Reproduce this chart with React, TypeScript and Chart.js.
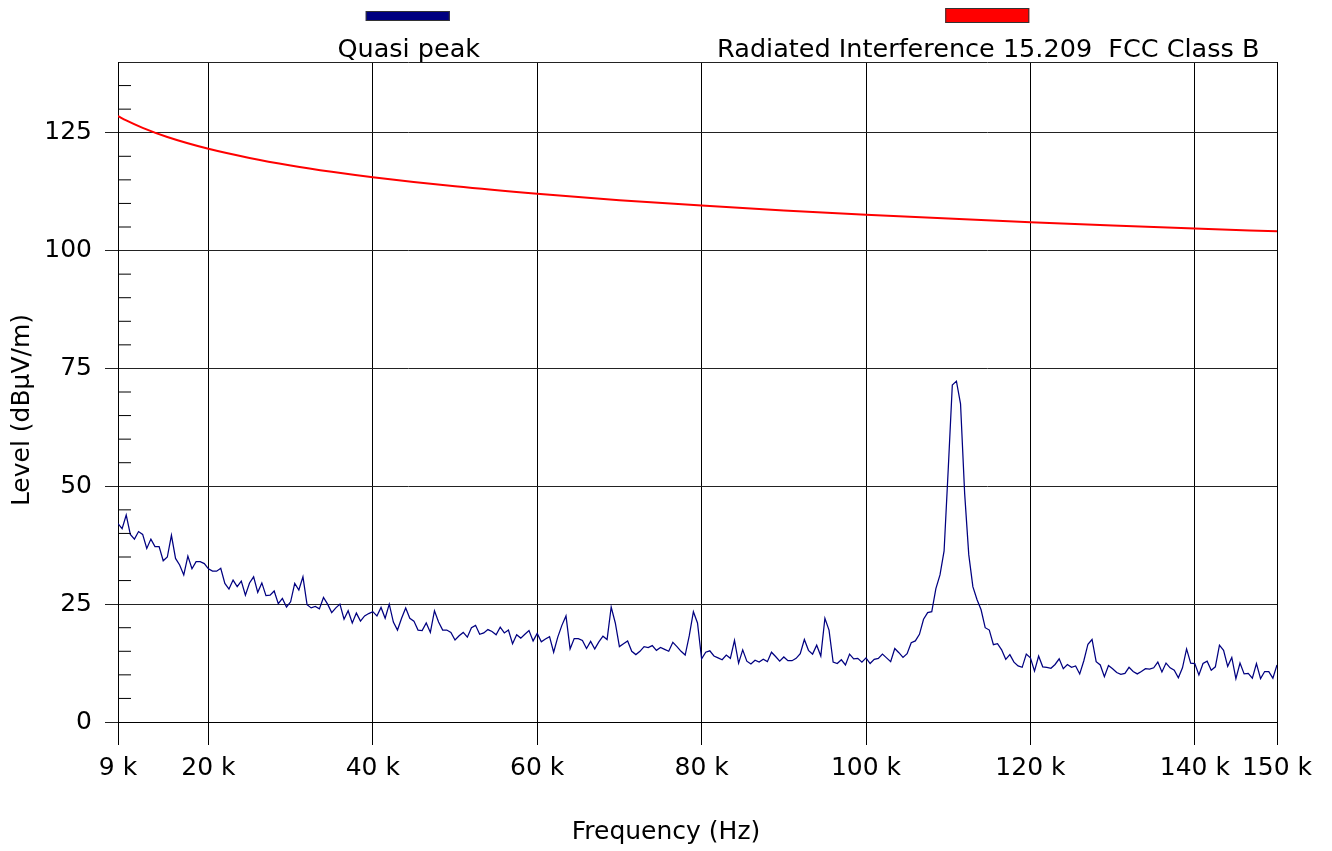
import React, { useEffect, useRef } from 'react';
import { Chart, registerables } from 'chart.js';

Chart.register(...registerables);

// Axis ticks
const xTickValues = [9, 20, 40, 60, 80, 100, 120, 140, 150];
const yTickValues = [0, 25, 50, 75, 100, 125, 140];

// Legend / titles
const qpLabel = 'Quasi peak';
const limitLabel = 'Radiated Interference 15.209  FCC Class B';
const xTitle = 'Frequency (Hz)';
const yTitle = 'Level (dBµV/m)';

// Limit line (FCC 15.209 Class B), kHz -> dBµV/m
const limitFreqKHz = [9, 10, 12, 15, 20, 25, 30, 35, 40, 50, 60, 70, 80, 90, 100, 110, 120, 130, 140, 150];
const limitLevel = [128.52, 127.6, 126.02, 124.08, 121.58, 119.65, 118.06, 116.72, 115.56, 113.62, 112.04, 110.7, 109.54, 108.52, 107.6, 106.78, 106.02, 105.33, 104.68, 104.08];

// Quasi peak sweep: 9 kHz to 150 kHz, 0.5 kHz steps
const qpStartKHz = 9;
const qpStepKHz = 0.5;
const qpLevel = [
  42.1, 41.0, 43.9, 39.8, 38.8, 40.4, 39.8, 36.8, 38.8, 37.2,
  37.2, 34.2, 35.0, 39.6, 34.7, 33.3, 31.2, 35.2, 32.5, 34.0,
  34.0, 33.6, 32.5, 32.0, 32.0, 32.6, 29.4, 28.2, 30.1, 28.7,
  29.9, 26.9, 29.5, 30.8, 27.5, 29.5, 26.8, 26.9, 27.8, 25.1,
  26.2, 24.4, 25.5, 29.4, 28.0, 30.8, 24.9, 24.2, 24.5, 24.0,
  26.4, 25.0, 23.2, 24.2, 25.0, 21.8, 23.6, 21.0, 23.1, 21.4,
  22.5, 23.0, 23.4, 22.5, 24.3, 22.0, 25.0, 21.2, 19.5, 22.0,
  24.2, 22.0, 21.4, 19.5, 19.4, 21.0, 19.0, 23.6, 21.2, 19.5,
  19.5, 19.0, 17.4, 18.3, 19.0, 18.0, 20.0, 20.5, 18.6, 18.9,
  19.6, 19.2, 18.5, 20.1, 18.9, 19.5, 16.6, 18.5, 17.8, 18.6,
  19.4, 17.2, 18.8, 17.0, 17.6, 18.1, 14.8, 18.0, 20.5, 22.5,
  15.5, 17.7, 17.7, 17.3, 15.6, 17.1, 15.5, 17.0, 18.2, 17.5,
  24.4, 21.0, 16.0, 16.6, 17.2, 15.0, 14.3, 15.0, 16.0, 15.8,
  16.2, 15.2, 15.8, 15.4, 15.0, 16.9, 16.0, 15.0, 14.2, 18.3,
  23.4, 21.0, 13.4, 14.8, 15.1, 14.0, 13.6, 13.2, 14.2, 13.5,
  17.3, 12.5, 15.3, 12.9, 12.3, 13.1, 12.7, 13.3, 12.8, 14.8,
  13.9, 12.9, 13.8, 13.0, 13.0, 13.5, 14.5, 17.5, 15.2, 14.4,
  16.3, 14.0, 22.0, 19.5, 12.7, 12.4, 13.2, 12.1, 14.4, 13.4,
  13.5, 12.7, 13.6, 12.4, 13.3, 13.5, 14.4, 13.6, 12.8, 15.6,
  14.7, 13.7, 14.5, 16.8, 17.2, 18.6, 21.8, 23.2, 23.4, 28.3,
  31.2, 36.3, 53.5, 71.5, 72.3, 67.5, 48.5, 35.5, 28.7, 26.0,
  23.8, 20.0, 19.5, 16.4, 16.6, 15.3, 13.3, 14.3, 12.7, 11.9,
  11.6, 14.4, 13.6, 10.8, 14.0, 11.7, 11.6, 11.4, 12.2, 13.4,
  11.3, 12.2, 11.6, 11.9, 10.2, 13.0, 16.5, 17.5, 12.8, 12.1,
  9.6, 12.0, 11.3, 10.5, 10.1, 10.3, 11.6, 10.7, 10.2, 10.7,
  11.3, 11.2, 11.5, 12.7, 10.6, 12.5, 11.5, 11.0, 9.4, 11.5,
  15.5, 12.5, 12.4, 10.0, 12.4, 12.9, 11.0, 11.7, 16.3, 15.2,
  11.8, 13.7, 9.2, 12.5, 10.2, 10.3, 9.3, 12.4, 9.2, 10.7,
  10.7, 9.3, 12.1,
];

const FONT = '"DejaVu Sans", Verdana, sans-serif';
const QP_COLOR = '#000080';
const LIMIT_COLOR = '#ff0000';

const extrasPlugin = {
  id: 'extras',
  afterDraw(chart: any) {
    const { ctx, chartArea, scales } = chart;
    const y = scales.y;
    ctx.save();
    // minor ticks on the left axis, inside the plot
    ctx.strokeStyle = '#000';
    ctx.lineWidth = 1;
    for (let v = 5; v < 140; v += 5) {
      if (v % 25 === 0) continue;
      const py = y.getPixelForValue(v);
      ctx.beginPath();
      ctx.moveTo(chartArea.left, py);
      ctx.lineTo(chartArea.left + 13, py);
      ctx.stroke();
    }
    // legend
    const w = chartArea.right - chartArea.left;
    const items = [
      { label: qpLabel, color: QP_COLOR, top: 11, h: 10 },
      { label: limitLabel, color: LIMIT_COLOR, top: 8, h: 15 },
    ];
    ctx.font = `25.5px ${FONT}`;
    ctx.textAlign = 'center';
    ctx.textBaseline = 'alphabetic';
    items.forEach((it, i) => {
      const cx = chartArea.left + (w * (2 * i + 1)) / 4;
      ctx.fillStyle = it.color;
      ctx.fillRect(cx - 42, it.top, 84, it.h);
      ctx.strokeStyle = '#333';
      ctx.lineWidth = 1;
      ctx.strokeRect(cx - 42 + 0.5, it.top + 0.5, 83, it.h - 1);
      ctx.fillStyle = '#000';
      ctx.fillText(it.label, cx + 1, 57);
    });
    // axis titles
    ctx.font = `25px ${FONT}`;
    ctx.fillStyle = '#000';
    ctx.textBaseline = 'middle';
    ctx.fillText(xTitle, chart.width / 2, 832);
    ctx.translate(22, 410);
    ctx.rotate(-Math.PI / 2);
    ctx.fillText(yTitle, 0, 0);
    ctx.restore();
  },
};

export default function App() {
  const canvasRef = useRef<HTMLCanvasElement | null>(null);

  useEffect(() => {
    document.body.style.margin = '0';
    const canvas = canvasRef.current;
    if (!canvas) return;
    const qpData = qpLevel.map((v, i) => ({ x: qpStartKHz + i * qpStepKHz, y: v }));
    const limitData = limitFreqKHz.map((f, i) => ({ x: f, y: limitLevel[i] }));

    const chart = new Chart(canvas, {
      type: 'line',
      data: {
        datasets: [
          {
            label: qpLabel,
            data: qpData,
            borderColor: QP_COLOR,
            backgroundColor: QP_COLOR,
            borderWidth: 1.25,
            pointRadius: 0,
            tension: 0,
          },
          {
            label: limitLabel,
            data: limitData,
            borderColor: LIMIT_COLOR,
            backgroundColor: LIMIT_COLOR,
            borderWidth: 2,
            pointRadius: 0,
            cubicInterpolationMode: 'monotone',
          },
        ],
      },
      options: {
        responsive: false,
        animation: false,
        events: [],
        layout: { padding: { top: 62, right: 55, left: 0, bottom: 0 } },
        plugins: { legend: { display: false }, tooltip: { enabled: false } },
        scales: {
          x: {
            type: 'linear',
            min: 9,
            max: 150,
            afterBuildTicks: (s: any) => {
              s.ticks = xTickValues.map((v) => ({ value: v }));
            },
            afterFit: (s: any) => {
              s.height = 129;
            },
            ticks: {
              callback: (v: any) => `${v} k`,
              font: { family: FONT, size: 25 },
              color: '#000',
              padding: 8,
              maxRotation: 0,
              autoSkip: false,
            },
            grid: { color: '#000', lineWidth: 1, tickLength: 23 },
            border: { color: '#000' },
          },
          y: {
            type: 'linear',
            min: 0,
            max: 140,
            afterBuildTicks: (s: any) => {
              s.ticks = yTickValues.map((v) => ({ value: v }));
            },
            afterFit: (s: any) => {
              s.width = 118;
            },
            ticks: {
              callback: (v: any) => (v === 140 ? '' : `${v}`),
              font: { family: FONT, size: 25 },
              color: '#000',
              padding: 13,
            },
            grid: {
              color: '#222',
              lineWidth: 1,
              tickLength: 13,
              tickColor: (c: any) => (c.tick && c.tick.value === 140 ? 'rgba(0,0,0,0)' : '#222'),
            },
            border: { color: '#000' },
          },
        },
      },
      plugins: [extrasPlugin],
    });
    return () => chart.destroy();
  }, []);

  return (
    <div style={{ width: 1332, height: 851, background: '#fff' }}>
      <canvas ref={canvasRef} width={1332} height={851} style={{ display: 'block' }} />
    </div>
  );
}
